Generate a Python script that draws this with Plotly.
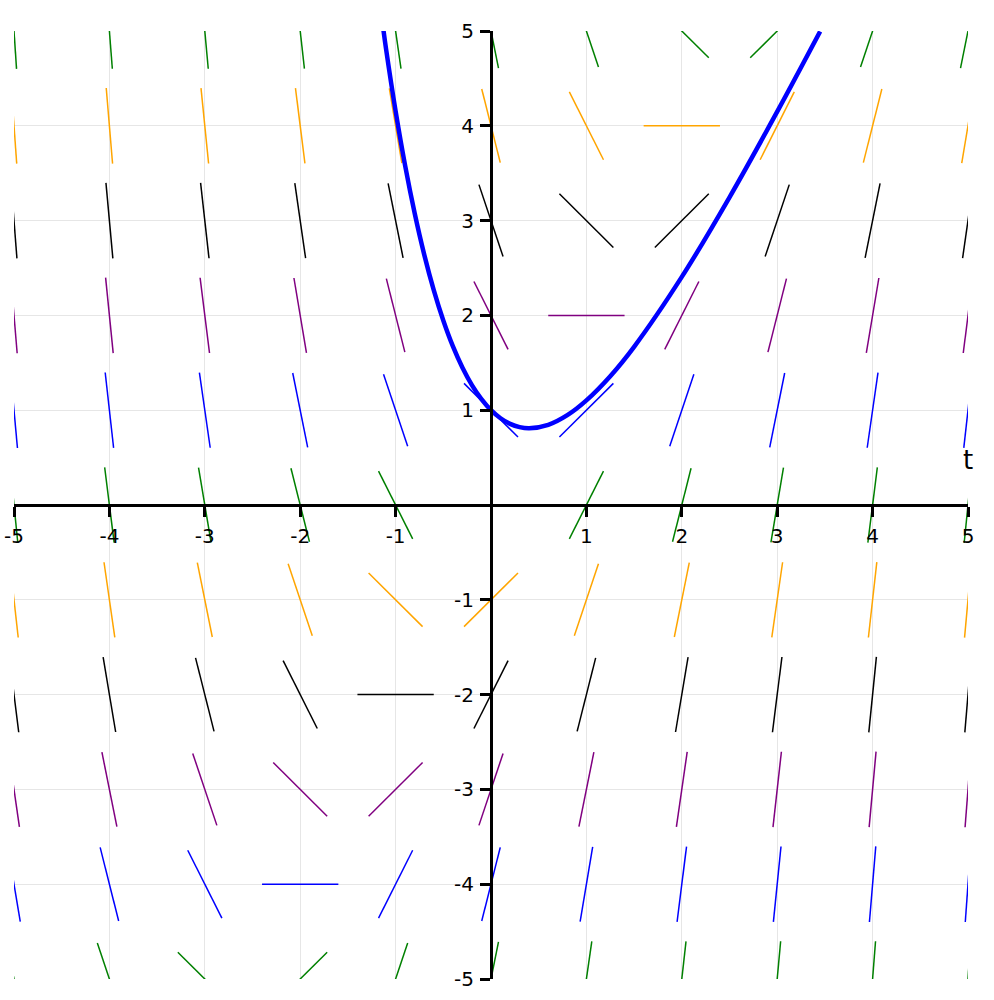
import numpy as np
import plotly.graph_objects as go

# grid of the slope field
t_vals = [-5, -4, -3, -2, -1, 0, 1, 2, 3, 4, 5]
y_vals = [5, 4, 3, 2, 1, 0, -1, -2, -3, -4, -5]
row_colors = ["green", "orange", "black", "purple", "blue", "green",
              "orange", "black", "purple", "blue", "green"]

# slopes read at each grid point (rows: y from 5 down to -5, cols: t from -5 to 5)
slopes = [
    [-15, -13, -11, -9, -7, -5, -3, -1, 1, 3, 5],
    [-14, -12, -10, -8, -6, -4, -2, 0, 2, 4, 6],
    [-13, -11, -9, -7, -5, -3, -1, 1, 3, 5, 7],
    [-12, -10, -8, -6, -4, -2, 0, 2, 4, 6, 8],
    [-11, -9, -7, -5, -3, -1, 1, 3, 5, 7, 9],
    [-10, -8, -6, -4, -2, 0, 2, 4, 6, 8, 10],
    [-9, -7, -5, -3, -1, 1, 3, 5, 7, 9, 11],
    [-8, -6, -4, -2, 0, 2, 4, 6, 8, 10, 12],
    [-7, -5, -3, -1, 1, 3, 5, 7, 9, 11, 13],
    [-6, -4, -2, 0, 2, 4, 6, 8, 10, 12, 14],
    [-5, -3, -1, 1, 3, 5, 7, 9, 11, 13, 15],
]

# solution curve points
curve_t = [-1.13, -1.1, -1.0, -0.9, -0.8, -0.7, -0.6, -0.5, -0.4, -0.3, -0.2, -0.1,
           0.0, 0.1, 0.2, 0.3, 0.4, 0.6, 0.8, 1.0, 1.25, 1.5, 2.0, 2.5, 3.0, 3.45]
curve_y = [5.03, 4.81, 4.155, 3.579, 3.077, 2.641, 2.266, 1.946, 1.675, 1.45, 1.264, 1.116,
           1.0, 0.915, 0.856, 0.822, 0.81, 0.846, 0.948, 1.104, 1.359, 1.669, 2.406, 3.246, 4.149, 4.995]

tick_vals = [-5, -4, -3, -2, -1, 1, 2, 3, 4, 5]
tick_text = ["-5", "-4", "-3", "-2", "-1", "1", "2", "3", "4", "5"]

HALF = 0.4

fig = go.Figure()

for i, yv in enumerate(y_vals):
    xs, ys = [], []
    for j, tv in enumerate(t_vals):
        m = slopes[i][j]
        dx = HALF / np.sqrt(1 + m * m)
        dy = m * dx
        xs += [tv - dx, tv + dx, None]
        ys += [yv - dy, yv + dy, None]
    fig.add_trace(go.Scatter(x=xs, y=ys, mode="lines",
                             line=dict(color=row_colors[i], width=1.5),
                             hoverinfo="skip", showlegend=False))

fig.add_trace(go.Scatter(x=curve_t, y=curve_y, mode="lines", line_shape="spline",
                         line=dict(color="blue", width=4.5), showlegend=False))

axis_common = dict(
    range=[-5, 5], tickvals=tick_vals, ticktext=tick_text,
    showgrid=True, gridcolor="#e6e6e6", gridwidth=1,
    zeroline=False, showline=True, linecolor="black", linewidth=3,
    ticks="outside", ticklen=10, tickwidth=3, tickcolor="black",
    tickfont=dict(family="DejaVu Sans", size=20, color="black"),
    ticklabelstandoff=2,
    anchor="free", position=0.5, layer="above traces", automargin=False,
)

fig.update_layout(
    width=994, height=1000,
    margin=dict(l=14, r=26, t=31, b=21),
    plot_bgcolor="white", paper_bgcolor="white",
    xaxis=dict(**axis_common),
    yaxis=dict(**axis_common),
    annotations=[
        dict(x=0.4, y=5.05, xref="x", yref="y", text="y", showarrow=False,
             font=dict(family="DejaVu Sans", size=26, color="black")),
        dict(x=5.0, y=0.47, xref="x", yref="y", text="t", showarrow=False,
             font=dict(family="DejaVu Sans", size=26, color="black")),
    ],
)

fig.write_html("out.html", config={"displayModeBar": False},
               post_script="document.body.style.margin='0';")
